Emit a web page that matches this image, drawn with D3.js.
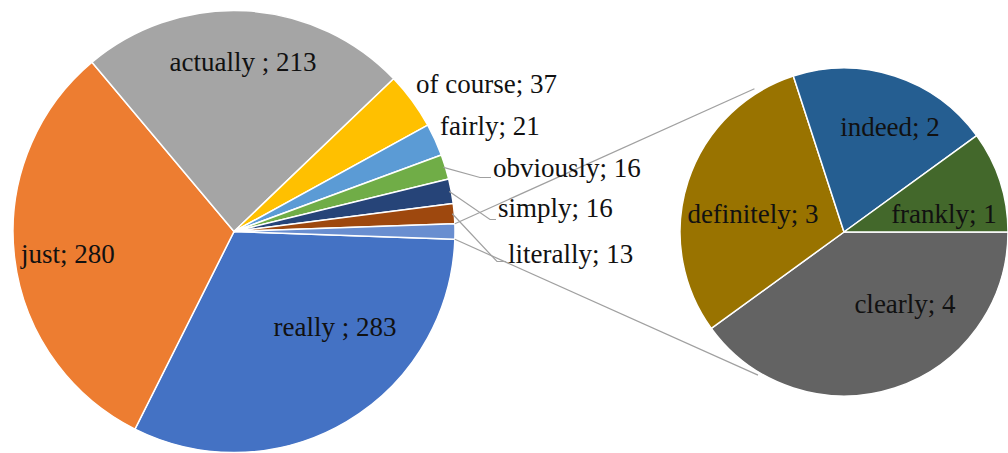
<!DOCTYPE html>
<html>
<head>
<meta charset="utf-8">
<script src="https://cdn.jsdelivr.net/npm/d3@7"></script>
</head>
<body style="margin:0">
<svg id="chart" width="1008" height="453"></svg>
<script>
// ---- data ----
const mainCategories = ["really", "just", "actually", "of course", "fairly", "obviously", "simply", "literally"];
const mainValues     = [283, 280, 213, 37, 21, 16, 16, 13];
const mainLabels     = ["really ; 283", "just; 280", "actually ; 213", "of course; 37", "fairly; 21", "obviously; 16", "simply; 16", "literally; 13"];
const subCategories  = ["clearly", "definitely", "indeed", "frankly"];
const subValues      = [4, 3, 2, 1];
const subLabels      = ["clearly; 4", "definitely; 3", "indeed; 2", "frankly; 1"];

// ---- styles ----
const mainColors = ["#4472C4", "#ED7D31", "#A5A5A5", "#FFC000", "#5B9BD5", "#70AD47", "#264478", "#9E480E"];
const otherColor = "#698ED0";
const subColors  = ["#636363", "#997300", "#255E91", "#43682B"];

const svg = d3.select("#chart");
const FONT = 27;
const FAMILY = `"Liberation Serif"`;

// layout
const C1 = {x: 234, y: 231.5, r: 221};
const C2 = {x: 844, y: 232, r: 164};

const otherTotal = d3.sum(subValues);
const mainData = mainCategories.map((c, i) => ({name: c, value: mainValues[i], label: mainLabels[i], color: mainColors[i]}));
mainData.push({name: "Other", value: otherTotal, label: null, color: otherColor});
const total = d3.sum(mainData, d => d.value);
const otherAngle = otherTotal / total * 2 * Math.PI;
const start1 = Math.PI / 2 + otherAngle / 2;

const pie1 = d3.pie().sort(null).value(d => d.value).startAngle(start1).endAngle(start1 + 2 * Math.PI);
const arcs1 = pie1(mainData);
const arc1 = d3.arc().innerRadius(0).outerRadius(C1.r);

const g1 = svg.append("g").attr("transform", `translate(${C1.x},${C1.y})`);
g1.selectAll("path").data(arcs1).join("path")
  .attr("d", arc1).attr("fill", d => d.data.color)
  .attr("stroke", "#fff").attr("stroke-width", 1.5).attr("stroke-linejoin", "round");

// secondary pie
const subData = subCategories.map((c, i) => ({name: c, value: subValues[i], label: subLabels[i], color: subColors[i]}));
const pie2 = d3.pie().sort(null).value(d => d.value).startAngle(Math.PI / 2).endAngle(Math.PI / 2 + 2 * Math.PI);
const arcs2 = pie2(subData);
const arc2 = d3.arc().innerRadius(0).outerRadius(C2.r);
const g2 = svg.append("g").attr("transform", `translate(${C2.x},${C2.y})`);
g2.selectAll("path").data(arcs2).join("path")
  .attr("d", arc2).attr("fill", d => d.data.color)
  .attr("stroke", "#fff").attr("stroke-width", 1.5).attr("stroke-linejoin", "round");

const polar = (c, a, r) => [c.x + r * Math.sin(a), c.y - r * Math.cos(a)];

// connector lines
const other = arcs1[arcs1.length - 1];
const deg = Math.PI / 180;
const conn = [
  [polar(C1, other.startAngle, C1.r), polar(C2, 328 * deg, C2.r + 5)],
  [polar(C1, other.endAngle, C1.r), polar(C2, 211 * deg, C2.r + 3)]
];
svg.selectAll("line.conn").data(conn).join("line").attr("class", "conn")
  .attr("x1", d => d[0][0]).attr("y1", d => d[0][1])
  .attr("x2", d => d[1][0]).attr("y2", d => d[1][1])
  .attr("stroke", "#a0a0a0").attr("stroke-width", 1.2);

// label layout (offsets from pie centres)
const labelPos = {
  "really":    {dx: 101, dy: 104, anchor: "middle"},
  "just":      {dx: -166, dy: 31, anchor: "middle"},
  "actually":  {dx: 9, dy: -161, anchor: "middle"},
  "of course": {dx: 182, dy: -139, anchor: "start"},
  "fairly":    {dx: 206, dy: -97, anchor: "start"},
  "obviously": {dx: 259, dy: -55, anchor: "start", bend: [246, -54]},
  "simply":    {dx: 264, dy: -15, anchor: "start", bend: [256, -12]},
  "literally": {dx: 274, dy: 31, anchor: "start", bend: [263, 30]}
};
const subLabelPos = {
  "clearly":    {dx: 61, dy: 81},
  "definitely": {dx: -91, dy: -9},
  "indeed":     {dx: 46, dy: -96},
  "frankly":    {dx: 100, dy: -9}
};

const leaders = arcs1.filter(a => labelPos[a.data.name] && labelPos[a.data.name].bend);
svg.selectAll("polyline.leader").data(leaders).join("polyline").attr("class", "leader")
  .attr("points", a => {
    const p = labelPos[a.data.name];
    const m = (a.startAngle + a.endAngle) / 2;
    const s = polar(C1, m, C1.r - 2);
    return [s, [C1.x + p.bend[0], C1.y + p.bend[1]], [C1.x + p.dx - 2, C1.y + p.bend[1]]].map(q => q.join(",")).join(" ");
  })
  .attr("fill", "none").attr("stroke", "#a0a0a0").attr("stroke-width", 1.2);

svg.selectAll("text.main").data(arcs1.filter(a => a.data.label)).join("text").attr("class", "main")
  .attr("x", a => C1.x + labelPos[a.data.name].dx)
  .attr("y", a => C1.y + labelPos[a.data.name].dy)
  .attr("text-anchor", a => labelPos[a.data.name].anchor)
  .attr("font-size", FONT).attr("fill", "#111")
  .style("font-family", FAMILY)
  .text(a => a.data.label);

svg.selectAll("text.sub").data(arcs2).join("text").attr("class", "sub")
  .attr("x", a => C2.x + subLabelPos[a.data.name].dx)
  .attr("y", a => C2.y + subLabelPos[a.data.name].dy)
  .attr("text-anchor", "middle")
  .attr("font-size", FONT).attr("fill", "#111")
  .style("font-family", FAMILY)
  .text(a => a.data.label);
</script>
</body>
</html>
